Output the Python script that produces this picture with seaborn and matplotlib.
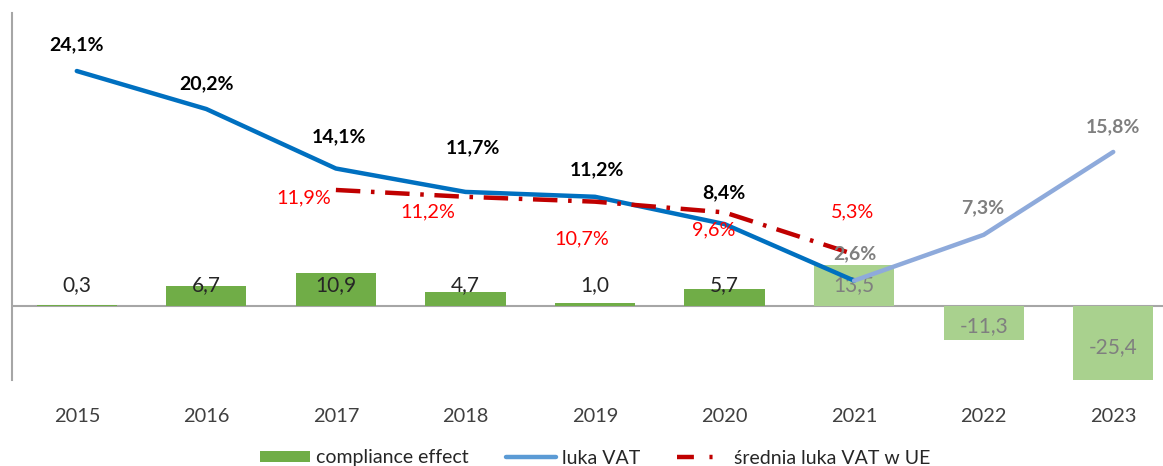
import numpy as np
import pandas as pd
import matplotlib
matplotlib.use("Agg")
import matplotlib.pyplot as plt
import seaborn as sns
from matplotlib.lines import Line2D
from matplotlib.patches import Patch

# dane
years = ["2015", "2016", "2017", "2018", "2019", "2020", "2021", "2022", "2023"]
compliance_effect = [0.3, 6.7, 10.9, 4.7, 1.0, 5.7, 13.5, -11.3, -25.4]
luka_vat = [24.1, 20.2, 14.1, 11.7, 11.2, 8.4, 2.6, 7.3, 15.8]
srednia_years = ["2017", "2018", "2019", "2020", "2021"]
srednia_ue = [11.9, 11.2, 10.7, 9.6, 5.3]
n_final = 6  # 2015-2020 dane ostateczne, od 2021 szacunki

# kolory
GREEN = "#70AD47"
GREEN_LIGHT = "#A9D18E"
BLUE = "#0070C0"
BLUE_LIGHT = "#8EAADB"
RED = "#C00000"

# przesuniecia etykiet (piksele)
luka_offsets = [(0, 26), (0, 25), (3, 32), (8, 44), (2, 27), (-1, 31), (1, 27), (-1, 27), (0, 25)]
srednia_offsets = [(-32, -8), (-38, -15), (-13, -37), (-11, -17), (-2, 42)]

sns.set_style("white")
plt.rcParams["font.family"] = ["Lato", "DejaVu Sans"]

fig = plt.figure(figsize=(11.63, 4.66), dpi=100)
ax = fig.add_axes([12 / 1163, 1 - 380 / 466, 1166 / 1163, 367 / 466])

df = pd.DataFrame({"rok": years, "compliance effect": compliance_effect})
bar_colors = [GREEN] * n_final + [GREEN_LIGHT] * (len(years) - n_final)
sns.barplot(data=df, x="rok", y="compliance effect", hue="rok", palette=bar_colors,
            legend=False, width=0.62, saturation=1, linewidth=0, edgecolor="none", ax=ax)
ax.set_xlim(-0.5, 8.5)
ax.set_ylim(-24.7, 97.7)
ax.axhline(0, color="#A6A6A6", lw=1.5, zorder=0.5)

for i, v in enumerate(compliance_effect):
    y = 7.0 if v > 0 else v / 2 - 1
    col = "#262626" if i < n_final else "#7F7F7F"
    ax.text(i, y, f"{v:.1f}".replace(".", ","), ha="center", va="center",
            fontsize=15, color=col)

ax2 = ax.twinx()
x = np.arange(len(years))
sns.lineplot(x=x[:n_final + 1], y=luka_vat[:n_final + 1], color=BLUE, lw=3.2, ax=ax2)
sns.lineplot(x=x[n_final:], y=luka_vat[n_final:], color=BLUE_LIGHT, lw=3.2, ax=ax2)
xs = [years.index(y) for y in srednia_years]
sns.lineplot(x=xs, y=srednia_ue, color=RED, lw=3.2, ax=ax2,
             linestyle=(0, (5.5, 2.4, 0.8, 2.4)))
ax2.set_ylim(-7.59, 30.05)

for i, v in enumerate(luka_vat):
    col = "black" if i < n_final else "#7F7F7F"
    ax2.annotate(f"{v:.1f}%".replace(".", ","), (i, v), xytext=luka_offsets[i],
                 textcoords="offset pixels", ha="center", va="center",
                 fontsize=14, fontweight="bold", color=col)

for j, v in enumerate(srednia_ue):
    ax2.annotate(f"{v:.1f}%".replace(".", ","), (xs[j], v), xytext=srednia_offsets[j],
                 textcoords="offset pixels", ha="center", va="center",
                 fontsize=14.3, color="#FF0000")

for a in (ax, ax2):
    for s in ("top", "right", "bottom"):
        a.spines[s].set_visible(False)
    a.set_yticks([])
    a.set_ylabel("")
ax2.spines["left"].set_visible(False)
ax.spines["left"].set_color("#A6A6A6")
ax.spines["left"].set_linewidth(1.5)
ax.set_xlabel("")
ax.tick_params(axis="x", length=0, pad=20, labelsize=14.4, labelcolor="#404040")

handles = [
    Patch(facecolor=GREEN, edgecolor="none"),
    Line2D([], [], color="#5B9BD5", lw=3.2),
    Line2D([], [], color=RED, lw=3.2, linestyle=(0, (3.8, 3.5, 0.7, 3.5))),
]
labels = ["compliance effect", "luka VAT", "średnia luka VAT w UE"]
fig.legend(handles, labels, loc="center", bbox_to_anchor=(0.5116, 1 - 458 / 466),
           ncol=3, frameon=False, fontsize=14, handlelength=2.6, handleheight=0.5,
           handletextpad=0.3, columnspacing=1.9, labelcolor="#262626",
           borderpad=0)

fig.savefig("out.png", dpi=100)
